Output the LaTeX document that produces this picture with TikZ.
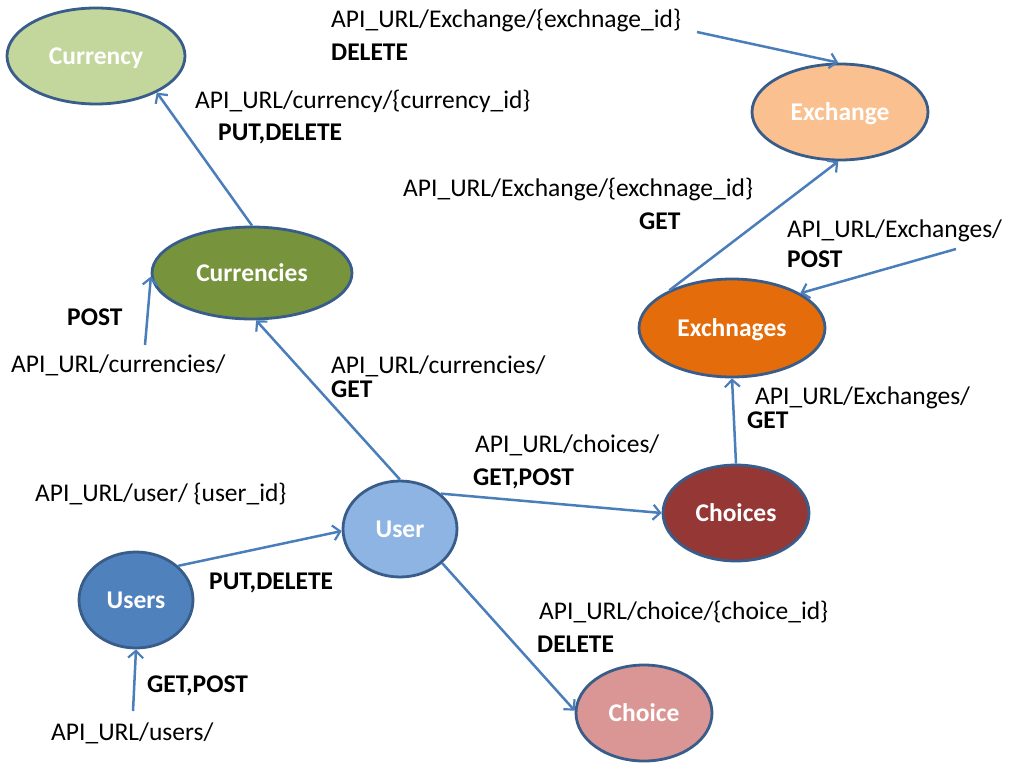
\documentclass[tikz,border=0pt]{standalone}
\usepackage{fontspec}
\setmainfont{Carlito}
\usetikzlibrary{arrows.meta,shapes.geometric}
\definecolor{edgeblue}{HTML}{4A7EBB}
\definecolor{outl}{HTML}{385D8A}
\definecolor{cCurrency}{HTML}{C3D69B}
\definecolor{cCurrencies}{HTML}{77933C}
\definecolor{cExchange}{HTML}{FAC090}
\definecolor{cExchnages}{HTML}{E46C0A}
\definecolor{cUser}{HTML}{8EB4E3}
\definecolor{cUsers}{HTML}{4F81BD}
\definecolor{cChoices}{HTML}{953735}
\definecolor{cChoice}{HTML}{D99694}
\tikzset{
  ent/.style={ellipse, draw=outl, line width=2.8pt, inner sep=0pt,
    text=white, text height=17pt, text depth=0pt, font=\fontsize{25.5}{30}\selectfont\bfseries},
  lbl/.style={anchor=base west, inner sep=0pt, font=\fontsize{25.5}{30}\selectfont},
  blbl/.style={anchor=base west, inner sep=0pt, font=\fontsize{25.5}{30}\selectfont\bfseries},
  conn/.style={draw=edgeblue, line width=2.5pt, -{Straight Barb[length=7pt,width=15pt,line width=2.2pt]}},
}
\begin{document}
\begin{tikzpicture}[x=1pt,y=-1pt]
\useasboundingbox (0,0) rectangle (1022,765);
\fill[white] (0,0) rectangle (1022,765);
% entities
\node[ent, fill=cCurrency, minimum width=178pt, minimum height=96pt] (currency) at (96,56) {Currency};
\node[ent, fill=cCurrencies, minimum width=200pt, minimum height=92pt] (currencies) at (252,273) {Currencies};
\node[ent, fill=cExchange, minimum width=176pt, minimum height=96pt] (exchange) at (840,112) {Exchange};
\node[ent, fill=cExchnages, minimum width=186pt, minimum height=98pt] (exchnages) at (732,328) {Exchnages};
\node[ent, fill=cUser, minimum width=114pt, minimum height=96pt] (user) at (400,529) {User};
\node[ent, fill=cUsers, minimum width=114pt, minimum height=96pt] (users) at (136,600) {Users};
\node[ent, fill=cChoices, minimum width=146pt, minimum height=96pt] (choices) at (736,513) {Choices};
\node[ent, fill=cChoice, minimum width=136pt, minimum height=96pt] (choice) at (644,713) {Choice};
% free ends
\coordinate (pPost) at (145,345);
\coordinate (pUsers) at (133,711);
\coordinate (pExPost) at (956,249);
\coordinate (pExDel) at (697,32);
% connectors
\draw[conn] (currencies.north) -- (currency.-31);
\draw[conn] (pPost) -- (currencies.182);
\draw[conn] (user.north) -- (currencies.-85);
\draw[conn] (user.41) -- (choices.180);
\draw[conn] (user.-39) -- (choice.178);
\draw[conn] (users.39) -- (user.182);
\draw[conn] (pUsers) -- (users.south);
\draw[conn] (choices.north) -- (exchnages.south);
\draw[conn] (exchnages.149) -- (exchange.-92);
\draw[conn] (pExPost) -- (exchnages.27);
\draw[conn] (pExDel) -- (exchange.92);
% labels
\node[lbl] (t1) at (331,28) {API\_URL/Exchange/\{exchnage\_id\}};
\node[blbl] (t2) at (331,61) {DELETE};
\node[lbl] (t3) at (195,109) {API\_URL/currency/\{currency\_id\}};
\node[blbl] (t4) at (218,140) {PUT,DELETE};
\node[lbl] (t5) at (403,196) {API\_URL/Exchange/\{exchnage\_id\}};
\node[blbl] (t6) at (639,229) {GET};
\node[lbl] (t7) at (787,237) {API\_URL/Exchanges/};
\node[blbl] (t8) at (787,267) {POST};
\node[blbl] (t9) at (67,325) {POST};
\node[lbl] (t10) at (11,372) {API\_URL/currencies/};
\node[lbl] (t11) at (331,373) {API\_URL/currencies/};
\node[blbl] (t12) at (331,397) {GET};
\node[lbl] (t13) at (755,404) {API\_URL/Exchanges/};
\node[blbl] (t14) at (747,428) {GET};
\node[lbl] (t15) at (475,452) {API\_URL/choices/};
\node[blbl] (t16) at (473,485) {GET,POST};
\node[lbl] (t17) at (35,501) {API\_URL/user/ \{user\_id\}};
\node[blbl] (t18) at (209,589) {PUT,DELETE};
\node[lbl] (t19) at (539,619) {API\_URL/choice/\{choice\_id\}};
\node[blbl] (t20) at (537,652) {DELETE};
\node[blbl] (t21) at (147,692) {GET,POST};
\node[lbl] (t22) at (51,740) {API\_URL/users/};
\end{tikzpicture}
\end{document}
